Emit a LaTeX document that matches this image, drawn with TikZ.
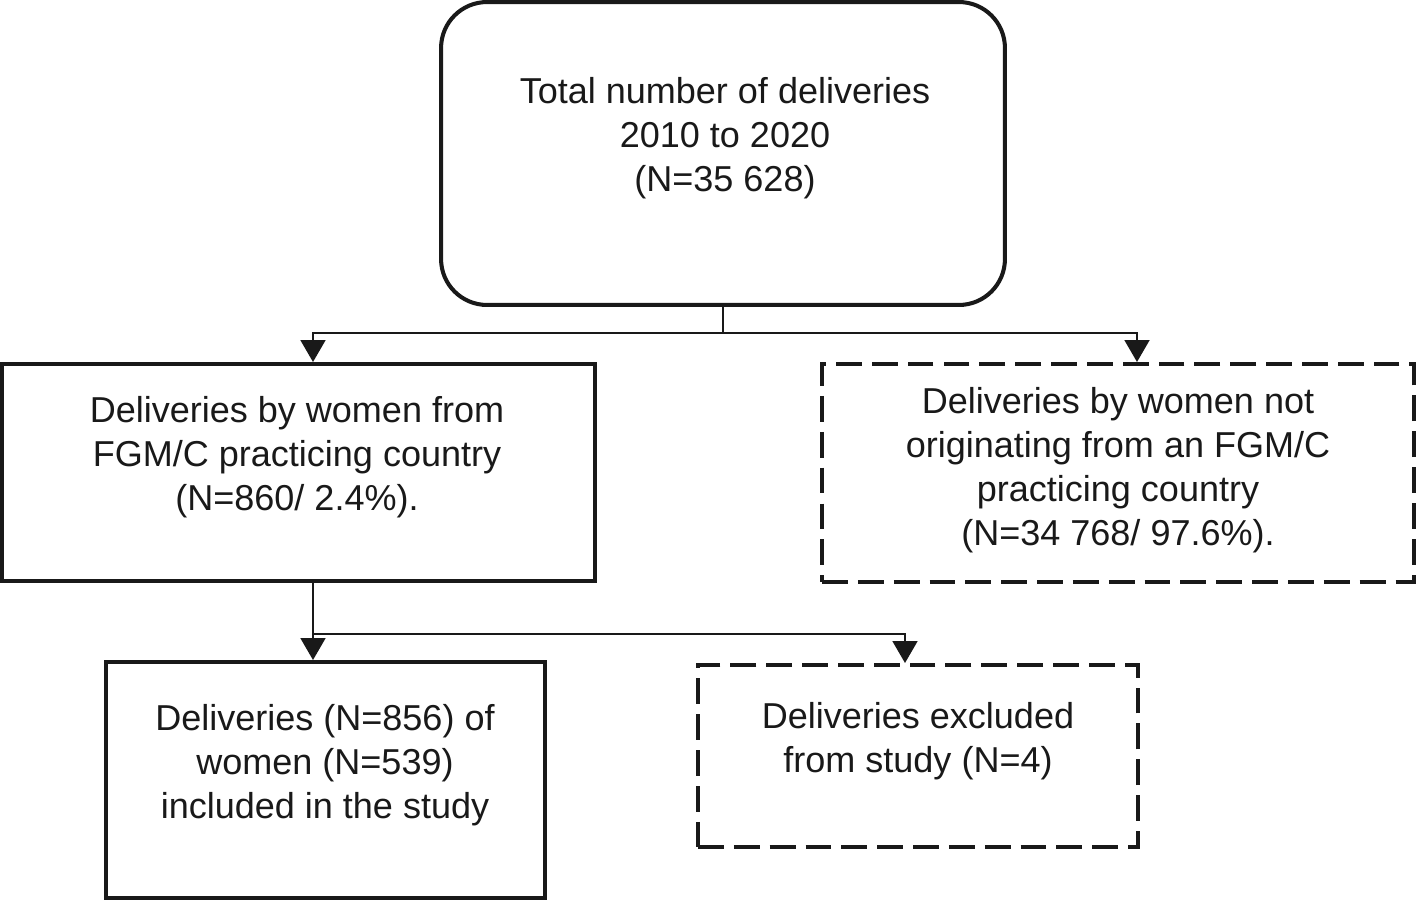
\documentclass[tikz,border=0pt]{standalone}
\usepackage{fontspec}
\setmainfont{Liberation Sans}
\usetikzlibrary{arrows.meta,calc}

\begin{document}
\begin{tikzpicture}[x=0.02cm,y=-0.02cm,>={Triangle[width=0.5cm,length=0.44cm]}]
		\tikzstyle{FRAME} = [draw=black!90, line width=2.3pt, inner sep=0pt]
		\tikzstyle{solidBox} = [FRAME]
		\tikzstyle{roundBox} = [FRAME, rounded corners=0.92cm]
		\tikzstyle{dashBox} = [FRAME, dash pattern=on 14.7pt off 5.7pt]
		\tikzstyle{txt} = [align=center, font=\fontsize{20.5}{25}\selectfont, text=black!90]
		\tikzstyle{link} = [draw=black!90, line width=1.1pt]

		\useasboundingbox (0,0) rectangle (1417,903);

		\node[roundBox, minimum width=11.28cm, minimum height=6.06cm] (total) at (723,153.5) {};
		\node[txt] (totalTxt) at (725,138) {Total number of deliveries\\2010 to 2020\\(N=35 628)};

		\node[solidBox, minimum width=11.86cm, minimum height=4.34cm] (fgm) at (298.5,472.5) {};
		\node[txt] (fgmTxt) at (297,457) {Deliveries by women from\\FGM/C practicing country\\(N=860/ 2.4\%).};

		\node[dashBox, minimum width=11.84cm, minimum height=4.36cm] (nonFgm) at (1118,473) {};
		\node[txt] (nonFgmTxt) at (1118,470) {Deliveries by women not\\originating from an FGM/C\\practicing country\\(N=34 768/ 97.6\%).};

		\node[solidBox, minimum width=8.78cm, minimum height=4.72cm] (incl) at (325.5,780) {};
		\node[txt] (inclTxt) at (325,765) {Deliveries (N=856) of\\women (N=539)\\included in the study};

		\node[dashBox, minimum width=8.8cm, minimum height=3.64cm] (excl) at (918,756) {};
		\node[txt] (exclTxt) at (918,741) {Deliveries excluded\\from study (N=4)};

		\coordinate (forkOne) at (723,333);
		\coordinate (forkTwo) at (313,634);
		\draw[link] (total.south) -- (forkOne);
		\draw[link,->] (forkOne) -| ($(fgm.north)+(14.5,0)$);
		\draw[link,->] (forkOne) -| ($(nonFgm.north)+(19,0)$);
		\draw[link] ($(fgm.south)+(14.5,0)$) -- (forkTwo);
		\draw[link,->] (forkTwo) -- ($(incl.north)+(-12.5,0)$);
		\draw[link,->] (forkTwo) -| ($(excl.north)+(-13,0)$);
\end{tikzpicture}
\end{document}
